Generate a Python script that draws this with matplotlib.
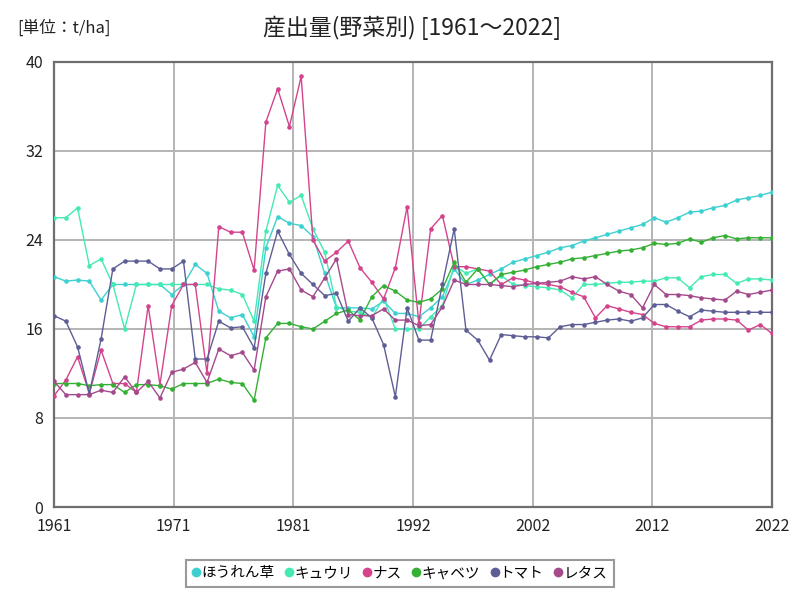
import matplotlib
matplotlib.use("Agg")
import matplotlib.pyplot as plt
import numpy as np

plt.rcParams['font.family'] = ['Noto Sans CJK JP', 'DejaVu Sans']

years = list(range(1961, 2023))

spinach = [20.7, 20.3, 20.4, 20.3, 18.6, 20.0, 20.0, 20.0, 20.0, 20.0,
           19.1, 20.0, 21.8, 21.0, 17.6, 17.0, 17.3, 15.3, 23.3, 26.1,
           25.5, 25.3, 24.3, 21.0, 17.9, 17.9, 17.9, 17.8, 18.5, 17.4,
           17.4, 17.1, 17.9, 18.9, 21.4, 20.0, 20.4, 20.9, 21.4, 22.0,
           22.3, 22.6, 22.9, 23.3, 23.5, 23.9, 24.2, 24.5, 24.8, 25.1,
           25.4, 26.0, 25.6, 26.0, 26.5, 26.6, 26.9, 27.1, 27.6, 27.8,
           28.0, 28.3]
cucumber = [26.0, 26.0, 26.9, 21.7, 22.3, 20.0, 16.0, 20.0, 20.0, 20.0,
            20.0, 20.0, 20.0, 20.0, 19.6, 19.5, 19.1, 16.7, 24.8, 28.9,
            27.4, 28.0, 25.0, 22.9, 18.0, 17.6, 17.5, 17.0, 18.8, 16.0,
            16.0, 16.0, 17.1, 18.1, 21.7, 21.0, 21.4, 20.0, 20.8, 20.0,
            19.9, 19.8, 19.7, 19.5, 18.8, 20.0, 20.0, 20.1, 20.2, 20.2,
            20.3, 20.3, 20.6, 20.6, 19.7, 20.7, 20.9, 20.9, 20.1, 20.5,
            20.5, 20.4]
eggplant = [10.0, 11.4, 13.5, 10.2, 14.1, 11.1, 11.1, 10.3, 18.1, 11.0,
            18.1, 20.0, 20.0, 12.0, 25.2, 24.7, 24.7, 21.3, 34.6, 37.6,
            34.2, 38.7, 24.0, 22.1, 22.9, 23.9, 21.5, 20.2, 18.7, 21.5,
            27.0, 16.5, 25.0, 26.2, 21.6, 21.6, 21.4, 21.2, 20.0, 20.6,
            20.4, 20.1, 20.0, 19.8, 19.3, 18.9, 17.0, 18.1, 17.8, 17.5,
            17.3, 16.5, 16.2, 16.2, 16.2, 16.8, 16.9, 16.9, 16.8, 15.9,
            16.4, 15.6]
cabbage = [11.1, 11.1, 11.1, 10.9, 11.0, 11.0, 10.3, 11.0, 11.0, 10.9,
           10.6, 11.1, 11.1, 11.1, 11.5, 11.2, 11.1, 9.6, 15.2, 16.5,
           16.5, 16.2, 16.0, 16.7, 17.4, 17.7, 16.8, 18.9, 19.9, 19.4,
           18.6, 18.4, 18.7, 19.6, 22.0, 20.2, 21.4, 20.0, 20.9, 21.1,
           21.3, 21.6, 21.8, 22.0, 22.3, 22.4, 22.6, 22.8, 23.0, 23.1,
           23.3, 23.7, 23.6, 23.7, 24.1, 23.8, 24.2, 24.4, 24.1, 24.2,
           24.2, 24.2]
tomato = [17.2, 16.7, 14.4, 10.2, 15.1, 21.4, 22.1, 22.1, 22.1, 21.4,
          21.4, 22.1, 13.3, 13.3, 16.7, 16.1, 16.2, 14.3, 21.0, 24.8,
          22.7, 21.0, 20.0, 19.0, 19.2, 16.7, 17.9, 17.0, 14.6, 9.9,
          17.9, 15.0, 15.0, 20.0, 25.0, 15.9, 15.0, 13.2, 15.5, 15.4,
          15.3, 15.3, 15.2, 16.2, 16.4, 16.4, 16.6, 16.8, 16.9, 16.7,
          17.0, 18.2, 18.2, 17.6, 17.1, 17.7, 17.6, 17.5, 17.5, 17.5,
          17.5, 17.5]
lettuce = [11.3, 10.1, 10.1, 10.1, 10.5, 10.3, 11.7, 10.3, 11.3, 9.8,
           12.1, 12.4, 13.0, 11.2, 14.2, 13.6, 13.9, 12.3, 18.9, 21.2,
           21.4, 19.5, 18.9, 20.6, 22.3, 17.3, 17.2, 17.2, 17.8, 16.8,
           16.8, 16.3, 16.4, 18.0, 20.4, 20.0, 20.0, 20.0, 19.9, 19.8,
           20.0, 20.1, 20.2, 20.3, 20.7, 20.5, 20.7, 20.0, 19.4, 19.1,
           17.9, 20.0, 19.1, 19.1, 19.0, 18.8, 18.7, 18.6, 19.4, 19.1,
           19.3, 19.5]

series_names = ['ほうれん草', 'キュウリ', 'ナス', 'キャベツ', 'トマト', 'レタス']
series_values = [spinach, cucumber, eggplant, cabbage, tomato, lettuce]
colors = ['#3cd0d0', '#44eab4', '#d4448c', '#34b034', '#5e5e96', '#a44a8c']

y_ticks = [0, 8, 16, 24, 32, 40]

fig = plt.figure(figsize=(8, 6), dpi=100)
ax = fig.add_axes([0.0675, 0.155, 0.8975, 0.7417])

for name, vals, c in zip(series_names, series_values, colors):
    ax.plot(years, vals, color=c, lw=1.0, marker='o', markersize=3.3,
            markeredgewidth=0, label=name, zorder=3)

ax.set_xlim(1961, 2022)
ax.set_ylim(0, 40)
xt = np.linspace(1961, 2022, 7)
ax.set_xticks(xt)
ax.set_xticklabels([str(int(np.floor(v + 0.5))) for v in xt])
ax.set_yticks(y_ticks)
ax.grid(True, color='#b4b4b4', lw=1.4)
ax.set_axisbelow(True)
for s in ax.spines.values():
    s.set_color('#6e6e6e')
    s.set_linewidth(1.6)
ax.tick_params(length=0, labelsize=11.5, colors='#222222', pad=8)

fig.text(0.022, 0.953, '[単位：t/ha]', fontsize=12, ha='left', va='center', color='#222222')
fig.text(0.515, 0.953, '産出量(野菜別) [1961～2022]', fontsize=16.5, ha='center', va='center', color='#222222')

leg = fig.legend(loc='center', bbox_to_anchor=(0.5, 0.0445), ncol=6, frameon=True,
                 fontsize=10.5, handlelength=0.5, handletextpad=0.1, columnspacing=0.75,
                 borderpad=0.45, borderaxespad=0.2, fancybox=False)
for h in leg.legend_handles:
    h.set_linestyle('none')
    h.set_markersize(7)
leg.get_frame().set_edgecolor('#808080')
leg.get_frame().set_linewidth(1.5)

fig.savefig('out.png', dpi=100)
